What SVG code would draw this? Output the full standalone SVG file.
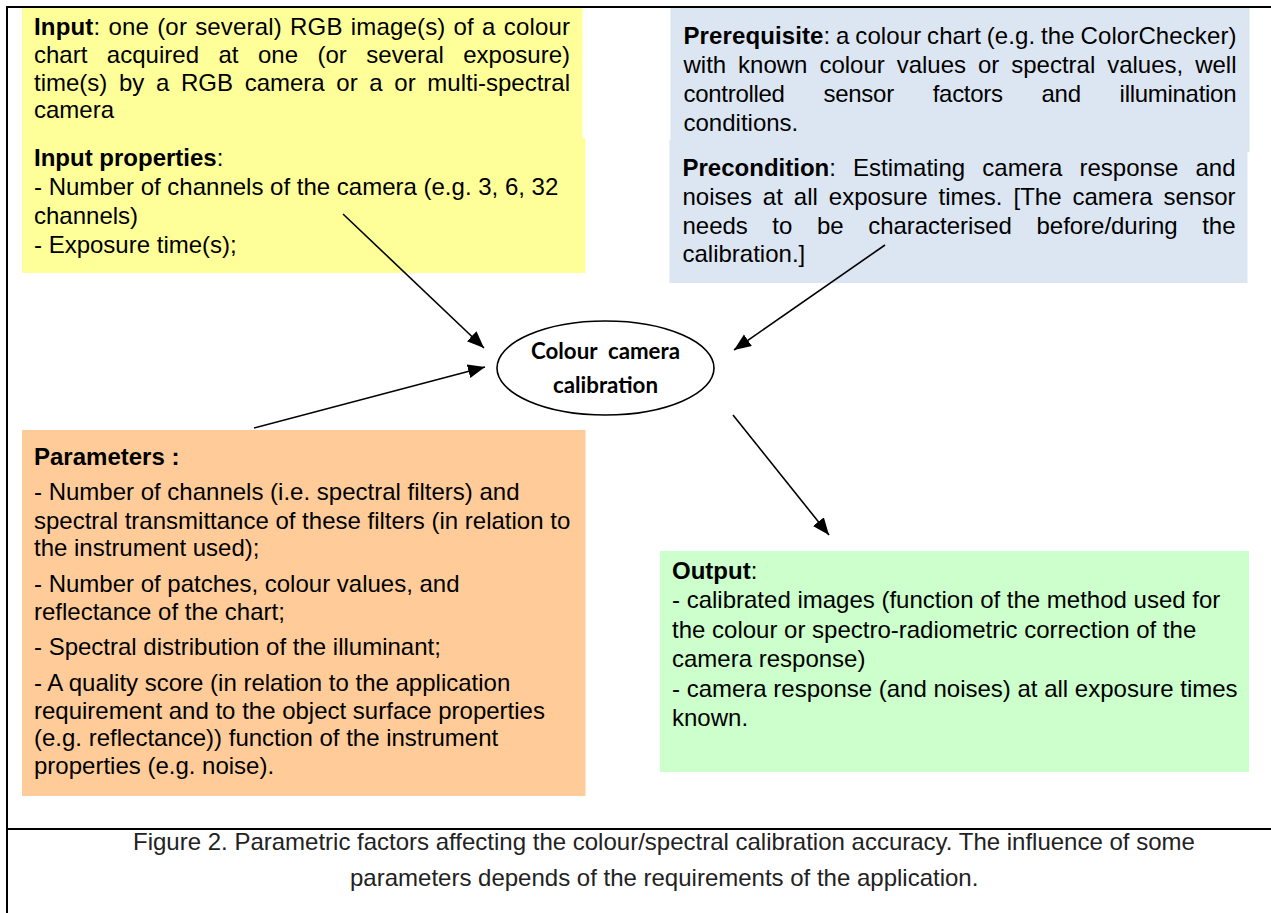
<svg xmlns="http://www.w3.org/2000/svg" width="1271" height="913" viewBox="0 0 1271 913">
<style>
.t{font-family:"Liberation Sans",Arial,sans-serif;font-size:24px;fill:#000}
.b{font-weight:bold}
.cap{font-family:"Liberation Sans",Arial,sans-serif;font-size:24px;fill:#222}
.el{font-family:Lato,"Open Sans",sans-serif;font-weight:bold;font-size:22px;fill:#000}
.ln{stroke:#000;stroke-width:1.6;fill:none}
</style>
<defs>
<marker id="ah" markerUnits="userSpaceOnUse" markerWidth="20" markerHeight="16" refX="17" refY="7" orient="auto">
<path d="M0,0 L17,7 L0,14 Z" fill="#000"/>
</marker>
</defs>
<rect width="1271" height="913" fill="#fff"/>
<g id="frame" stroke="#000" stroke-width="2" fill="none">
<line x1="7" y1="7" x2="1271" y2="7"/>
<line x1="7" y1="6" x2="7" y2="913"/>
<line x1="7" y1="829" x2="1271" y2="829"/>
</g>
<g id="input">
<rect x="22" y="8" width="560.5" height="131" fill="#FFFF99"/>
<rect x="22" y="138" width="563.5" height="135" fill="#FFFF99"/>
<text class="t" x="34" y="35" word-spacing="1.3" textLength="536" lengthAdjust="spacing"><tspan class="b">Input</tspan>: one (or several) RGB image(s) of a colour</text>
<text class="t" x="34" y="63" word-spacing="12.8" textLength="536" lengthAdjust="spacing">chart acquired at one (or several exposure)</text>
<text class="t" x="34" y="91" word-spacing="5" textLength="536" lengthAdjust="spacing">time(s) by a RGB camera or a or multi-spectral</text>
<text class="t" x="34" y="118">camera</text>
<text class="t" x="34" y="166"><tspan class="b">Input properties</tspan>:</text>
<text class="t" x="34" y="195">- Number of channels of the camera (e.g. 3, 6, 32</text>
<text class="t" x="34" y="224">channels)</text>
<text class="t" x="34" y="253">- Exposure time(s);</text>
</g>
<g id="prerequisite">
<rect x="670.5" y="8" width="579" height="144" fill="#DCE6F2"/>
<rect x="669.5" y="140" width="578" height="143" fill="#DCE6F2"/>
<text class="t" x="683.5" y="43.5" word-spacing="-1" textLength="553" lengthAdjust="spacing"><tspan class="b">Prerequisite</tspan>: a colour chart (e.g. the ColorChecker)</text>
<text class="t" x="683.5" y="72.5" word-spacing="5.3" textLength="553" lengthAdjust="spacing">with known colour values or spectral values, well</text>
<text class="t" x="683.5" y="101.5" word-spacing="32.5" textLength="553" lengthAdjust="spacing">controlled sensor factors and illumination</text>
<text class="t" x="683.5" y="131">conditions.</text>
<text class="t" x="682.5" y="176" word-spacing="10.5" textLength="553" lengthAdjust="spacing"><tspan class="b">Precondition</tspan>: Estimating camera response and</text>
<text class="t" x="682.5" y="204.5" word-spacing="4.3" textLength="553" lengthAdjust="spacing">noises at all exposure times. [The camera sensor</text>
<text class="t" x="682.5" y="233.5" word-spacing="18" textLength="553" lengthAdjust="spacing">needs to be characterised before/during the</text>
<text class="t" x="682.5" y="262">calibration.]</text>
</g>
<g id="parameters">
<rect x="22" y="430" width="563.5" height="366" fill="#FFCC99"/>
<text class="t b" x="34" y="465">Parameters :</text>
<text class="t" x="34" y="500">- Number of channels (i.e. spectral filters) and</text>
<text class="t" x="34" y="528.5">spectral transmittance of these filters (in relation to</text>
<text class="t" x="34" y="556">the instrument used);</text>
<text class="t" x="34" y="592">- Number of patches, colour values, and</text>
<text class="t" x="34" y="620">reflectance of the chart;</text>
<text class="t" x="34" y="655">- Spectral distribution of the illuminant;</text>
<text class="t" x="34" y="691">- A quality score (in relation to the application</text>
<text class="t" x="34" y="718.5">requirement and to the object surface properties</text>
<text class="t" x="34" y="746">(e.g. reflectance)) function of the instrument</text>
<text class="t" x="34" y="773.5">properties (e.g. noise).</text>
</g>
<g id="output">
<rect x="660" y="551" width="589" height="221" fill="#CCFFCC"/>
<text class="t" x="672" y="578.5"><tspan class="b">Output</tspan>:</text>
<text class="t" x="672" y="608">- calibrated images (function of the method used for</text>
<text class="t" x="672" y="637.5">the colour or spectro-radiometric correction of the</text>
<text class="t" x="672" y="667">camera response)</text>
<text class="t" x="672" y="697">- camera response (and noises) at all exposure times</text>
<text class="t" x="672" y="726">known.</text>
</g>
<g id="calibration">
<ellipse cx="605.5" cy="368" rx="108.5" ry="47" fill="#fff" stroke="#000" stroke-width="1.6"/>
<text class="el" x="531" y="359" textLength="149" lengthAdjust="spacingAndGlyphs" xml:space="preserve">Colour  camera</text>
<text class="el" x="553" y="393" textLength="105" lengthAdjust="spacingAndGlyphs">calibration</text>
</g>
<g id="connectors" class="ln">
<line x1="343" y1="214" x2="484" y2="348" marker-end="url(#ah)"/>
<line x1="254" y1="428" x2="485" y2="367" marker-end="url(#ah)"/>
<line x1="885" y1="245" x2="734" y2="350" marker-end="url(#ah)"/>
<line x1="733" y1="415" x2="829" y2="535" marker-end="url(#ah)"/>
</g>
<g id="caption">
<text class="cap" x="133" y="850">Figure 2. Parametric factors affecting the colour/spectral calibration accuracy. The influence of some</text>
<text class="cap" x="350" y="886">parameters depends of the requirements of the application.</text>
</g>
</svg>
